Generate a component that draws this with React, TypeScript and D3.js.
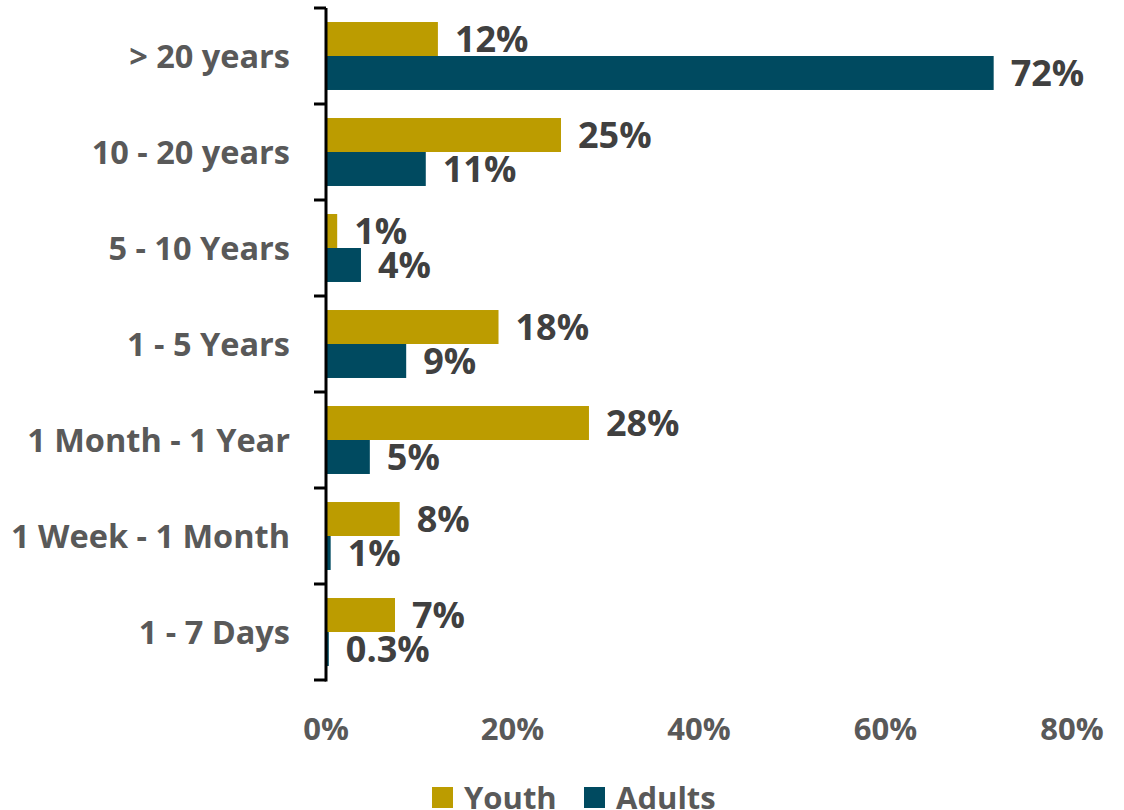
import React from "react";
import * as d3 from "d3";

const categories = ["> 20 years", "10 - 20 years", "5 - 10 Years", "1 - 5 Years", "1 Month - 1 Year", "1 Week - 1 Month", "1 - 7 Days"];
const youthValues = [12.0, 25.2, 1.2, 18.5, 28.2, 7.9, 7.4];
const adultValues = [71.6, 10.7, 3.75, 8.6, 4.7, 0.5, 0.3];
const youthLabels = ["12%", "25%", "1%", "18%", "28%", "8%", "7%"];
const adultLabels = ["72%", "11%", "4%", "9%", "5%", "1%", "0.3%"];
const xTicks = [0, 20, 40, 60, 80];
const seriesNames = ["Youth", "Adults"];
const seriesColors = ["#BC9C00", "#004A60"];

const FONT = "'Open Sans', 'DejaVu Sans', sans-serif";

export default function App() {
  const width = 1124;
  const height = 810;
  const x0 = 326;
  const x = d3.scaleLinear().domain([0, 80]).range([x0, 1072]);
  const y = d3.scaleBand<string>().domain(categories).range([8, 680]).paddingInner(0).paddingOuter(0);
  const pad = y.bandwidth() * 0.146;
  const inner = d3.scaleBand<string>().domain(seriesNames).range([pad, y.bandwidth() - pad]).paddingInner(0).paddingOuter(0);
  const series = [youthValues, adultValues];
  const labels = [youthLabels, adultLabels];

  const boundaries = categories.map((c) => y(c) as number).concat([680]);

  return (
    <svg width={width} height={height} style={{ position: "absolute", left: 0, top: 0, background: "#fff" }}>
      {categories.map((c, i) => (
        <g key={c}>
          {seriesNames.map((s, si) => {
            const by = (y(c) as number) + (inner(s) as number);
            const bh = inner.bandwidth();
            const v = series[si][i];
            return (
              <g key={s}>
                <rect x={x(0)} y={by} width={x(v) - x(0)} height={bh} fill={seriesColors[si]} />
                <text
                  x={x(v) + 17}
                  y={by + bh / 2}
                  dy="0.36em"
                  fontFamily={FONT}
                  fontWeight={700}
                  fontSize={36}
                  fill="#404040"
                >
                  {labels[si][i]}
                </text>
              </g>
            );
          })}
          <text
            x={290}
            y={(y(c) as number) + y.bandwidth() / 2}
            dy="0.36em"
            textAnchor="end"
            fontFamily={FONT}
            fontWeight={700}
            fontSize={32.5}
            fill="#595959"
          >
            {c}
          </text>
        </g>
      ))}
      <line x1={x0} x2={x0} y1={8} y2={681.5} stroke="#000" strokeWidth={3} />
      {boundaries.map((b, i) => (
        <line key={i} x1={314} x2={x0} y1={b} y2={b} stroke="#000" strokeWidth={3} />
      ))}
      {xTicks.map((t) => (
        <text
          key={t}
          x={x(t)}
          y={740}
          textAnchor="middle"
          fontFamily={FONT}
          fontWeight={700}
          fontSize={31}
          fill="#595959"
        >
          {t + "%"}
        </text>
      ))}
      {seriesNames.map((s, i) => {
        const lx = i === 0 ? 432 : 584;
        return (
          <g key={s}>
            <rect x={lx} y={787} width={21} height={21} fill={seriesColors[i]} />
            <text x={lx + 32} y={809} fontFamily={FONT} fontWeight={700} fontSize={31} fill="#595959">
              {s}
            </text>
          </g>
        );
      })}
    </svg>
  );
}
